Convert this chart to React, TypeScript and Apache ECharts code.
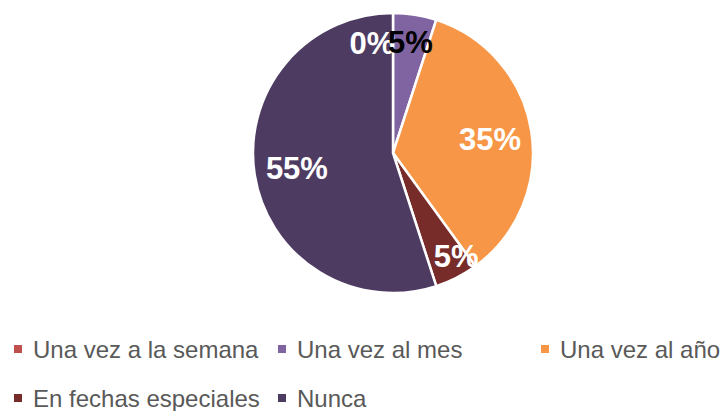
import React, { useEffect, useRef } from "react";
import * as echarts from "echarts";

const categories = [
  "Una vez a la semana",
  "Una vez al mes",
  "Una vez al año",
  "En fechas especiales",
  "Nunca",
];
const values = [0, 5, 35, 5, 55];
const colors = ["#C0504D", "#8064A2", "#F79646", "#772C2A", "#4E3B62"];
const labelColors = ["#FFFFFF", "#000000", "#FFFFFF", "#FFFFFF", "#FFFFFF"];
const labelShift: [number, number][] = [
  [-21, -37],
  [6, -38],
  [25, -2],
  [30, 38],
  [-24, 4],
];
const legendPos: [number, number][] = [
  [12, 337],
  [276, 337],
  [539, 337],
  [12, 386],
  [276, 386],
];

export default function App() {
  const ref = useRef<HTMLDivElement>(null);
  useEffect(() => {
    if (!ref.current) return;
    const chart = echarts.init(ref.current, undefined, { renderer: "svg" });
    chart.setOption({
      animation: false,
      backgroundColor: "#FFFFFF",
      color: colors,
      legend: categories.map((c, i) => ({
        data: [c],
        left: legendPos[i][0],
        top: legendPos[i][1],
        icon: "rect",
        itemWidth: 10,
        itemHeight: 10,
        padding: 0,
        selectedMode: false,
        textStyle: {
          fontFamily: "Liberation Sans",
          fontSize: 24,
          lineHeight: 24,
          color: "#595959",
          padding: [0, 0, 0, 5],
        },
      })),
      series: [
        {
          type: "pie",
          center: [393, 153],
          radius: 140,
          startAngle: 90,
          clockwise: true,
          avoidLabelOverlap: false,
          itemStyle: { borderColor: "#FFFFFF", borderWidth: 2.5 },
          label: {
            show: true,
            position: "inside",
            formatter: "{c}%",
            fontFamily: "Liberation Sans",
            fontWeight: "bold",
            fontSize: 31,
          },
          labelLine: { show: false },
          emphasis: { disabled: true },
          labelLayout: (p: any) => ({
            dx: labelShift[p.dataIndex][0],
            dy: labelShift[p.dataIndex][1],
          }),
          data: categories.map((c, i) => ({
            name: c,
            value: values[i],
            label: { color: labelColors[i] },
          })),
        },
      ],
    });
    return () => chart.dispose();
  }, []);
  return (
    <div
      ref={ref}
      style={{ position: "fixed", left: 0, top: 0, width: 724, height: 411 }}
    />
  );
}
